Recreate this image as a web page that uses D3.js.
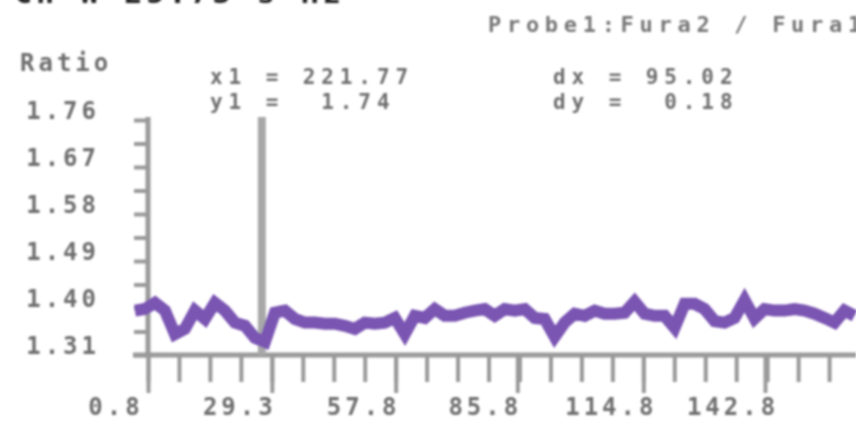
<!DOCTYPE html>
<html>
<head>
<meta charset="utf-8">
<script src="https://cdn.jsdelivr.net/npm/d3@7"></script>
<style>
  body { margin: 0; background: #fff; }
  svg { display: block; }
  text { font-family: "DejaVu Sans Mono", monospace; font-weight: bold; fill: #6e6e6e; white-space: pre; }
</style>
</head>
<body>
<svg id="chart" width="856" height="440"></svg>
<script>
// trace (time in s, Fura ratio)
const time = [-2.2, 0.1, 2.4, 4.7, 7.0, 9.3, 11.6, 13.9, 16.2, 18.5, 20.8, 23.1, 25.4, 27.7, 30.0,
  32.3, 34.6, 36.9, 39.2, 41.5, 43.8, 46.1, 48.4, 50.7, 53.0, 55.3, 57.6, 59.9, 62.2, 64.5,
  66.8, 69.1, 71.4, 73.7, 76.0, 78.3, 80.6, 82.9, 85.2, 87.5, 89.8, 92.1, 94.4, 96.7, 99.0,
  101.3, 103.6, 105.9, 108.2, 110.5, 112.8, 115.1, 117.4, 119.7, 122.0, 124.3, 126.6, 128.9,
  131.2, 133.5, 135.8, 138.1, 140.4, 142.7, 145.0, 147.3, 149.6, 151.9, 154.2, 156.5, 158.8,
  161.1, 163.4]
const ratio = [1.395, 1.398, 1.410, 1.395, 1.350, 1.360, 1.395, 1.379, 1.410, 1.395, 1.372, 1.366,
  1.343, 1.335, 1.391, 1.395, 1.379, 1.372, 1.372, 1.370, 1.370, 1.366, 1.360, 1.372, 1.370,
  1.372, 1.381, 1.350, 1.385, 1.381, 1.398, 1.385, 1.385, 1.391, 1.395, 1.398, 1.385, 1.398,
  1.395, 1.398, 1.381, 1.379, 1.345, 1.372, 1.389, 1.385, 1.395, 1.389, 1.389, 1.391, 1.412,
  1.389, 1.385, 1.385, 1.362, 1.408, 1.408, 1.398, 1.375, 1.372, 1.381, 1.415, 1.380, 1.398,
  1.395, 1.395, 1.398, 1.395, 1.389, 1.381, 1.372, 1.395, 1.385]

const xTicks = [0.8, 29.3, 57.8, 85.8, 114.8, 142.8]
const yTicks = [1.31, 1.40, 1.49, 1.58, 1.67, 1.76]
const cursorX = 27.0
const readout = ['x1 = 221.77', 'y1 =  1.74']
const delta = ['dx = 95.02', 'dy =  0.18']
const yLabel = 'Ratio'
const header = 'Ch W 25.73 s Hz'
const channel = 'Probe1:Fura2 / Fura1'

const svg = d3.select('#chart')
const W = +svg.attr('width')

// soft edges like the reference screenshot
svg.append('defs').append('filter').attr('id', 'soft')
    .append('feGaussianBlur').attr('stdDeviation', 0.9)
const root = svg.append('g').attr('filter', 'url(#soft)')

const x = d3.scaleLinear().domain([0.8, 142.8]).range([148, 765])
const y = d3.scaleLinear().domain([1.31, 1.76]).range([355, 120])

// minor ticks: quarters on x, halves on y
const xStep = xTicks[1] - xTicks[0]
const xMinor = []
for (let v = xTicks[0]; x(v) < W; v += xStep / 4) xMinor.push(v)
const yMinor = []
for (let i = 0; i < yTicks.length - 1; i++) yMinor.push((yTicks[i] + yTicks[i + 1]) / 2)

const axisColor = '#9a9a9a'
const label = sel => sel.style('font-size', '24px').style('letter-spacing', '4px')

// header cut off by the top edge
root.append('text')
    .attr('x', 14).attr('y', 3)
    .style('font-size', '30px').style('fill', '#222').style('letter-spacing', '4px')
    .text(header)

root.append('text')
    .attr('x', 488).attr('y', 32)
    .style('font-size', '22px').style('letter-spacing', '5.7px').style('fill', '#777')
    .text(channel)

root.append('text')
    .attr('x', 20).attr('y', 71)
    .call(label)
    .text(yLabel)

// x axis
const gx = root.append('g').attr('transform', 'translate(0,' + y(1.31) + ')')
gx.call(d3.axisBottom(x).tickValues(xMinor).tickSize(27).tickFormat(''))
gx.append('g').call(d3.axisBottom(x).tickValues(xTicks).tickSize(38).tickFormat(''))
gx.selectAll('path.domain').remove()
gx.selectAll('line').attr('stroke', axisColor).attr('stroke-width', 4)
gx.append('line').attr('x1', 133).attr('x2', W).attr('y1', 0).attr('y2', 0)
    .attr('stroke', axisColor).attr('stroke-width', 5)
gx.selectAll('.xlab').data(xTicks).enter().append('text')
    .attr('class', 'xlab')
    .attr('x', d => x(d) - 32).attr('y', 60)
    .call(label)
    .text(d => d.toFixed(1))

// y axis
const gy = root.append('g').attr('transform', 'translate(' + x(0.8) + ',0)')
gy.call(d3.axisLeft(y).tickValues(yTicks.concat(yMinor)).tickSize(14).tickFormat(''))
gy.selectAll('path.domain').remove()
gy.selectAll('line').attr('stroke', axisColor).attr('stroke-width', 4)
gy.append('line').attr('x1', 0).attr('x2', 0).attr('y1', y(1.76) - 3).attr('y2', y(1.31) + 2)
    .attr('stroke', axisColor).attr('stroke-width', 5)
gy.selectAll('.ylab').data(yTicks).enter().append('text')
    .attr('class', 'ylab')
    .attr('x', -48).attr('y', d => y(d) - 1)
    .attr('text-anchor', 'end')
    .call(label)
    .text(d => d.toFixed(2))

// cursor
root.append('line')
    .attr('x1', x(cursorX)).attr('x2', x(cursorX))
    .attr('y1', y(1.76) - 3).attr('y2', y(1.31))
    .attr('stroke', '#a8a8a8').attr('stroke-width', 8)

// trace
const line = d3.line().x((d, i) => x(time[i])).y(d => y(d))
root.append('path')
    .datum(ratio)
    .attr('fill', 'none')
    .attr('stroke', '#7a54b2')
    .attr('stroke-width', 12)
    .attr('stroke-linejoin', 'miter')
    .attr('d', line)

// cursor readouts
root.selectAll('.readout').data(readout).enter().append('text')
    .attr('x', 210).attr('y', (d, i) => 84 + i * 25)
    .style('font-size', '21px').style('letter-spacing', '5.9px')
    .text(d => d)
root.selectAll('.delta').data(delta).enter().append('text')
    .attr('x', 553).attr('y', (d, i) => 84 + i * 25)
    .style('font-size', '21px').style('letter-spacing', '5.9px')
    .text(d => d)
</script>
</body>
</html>
